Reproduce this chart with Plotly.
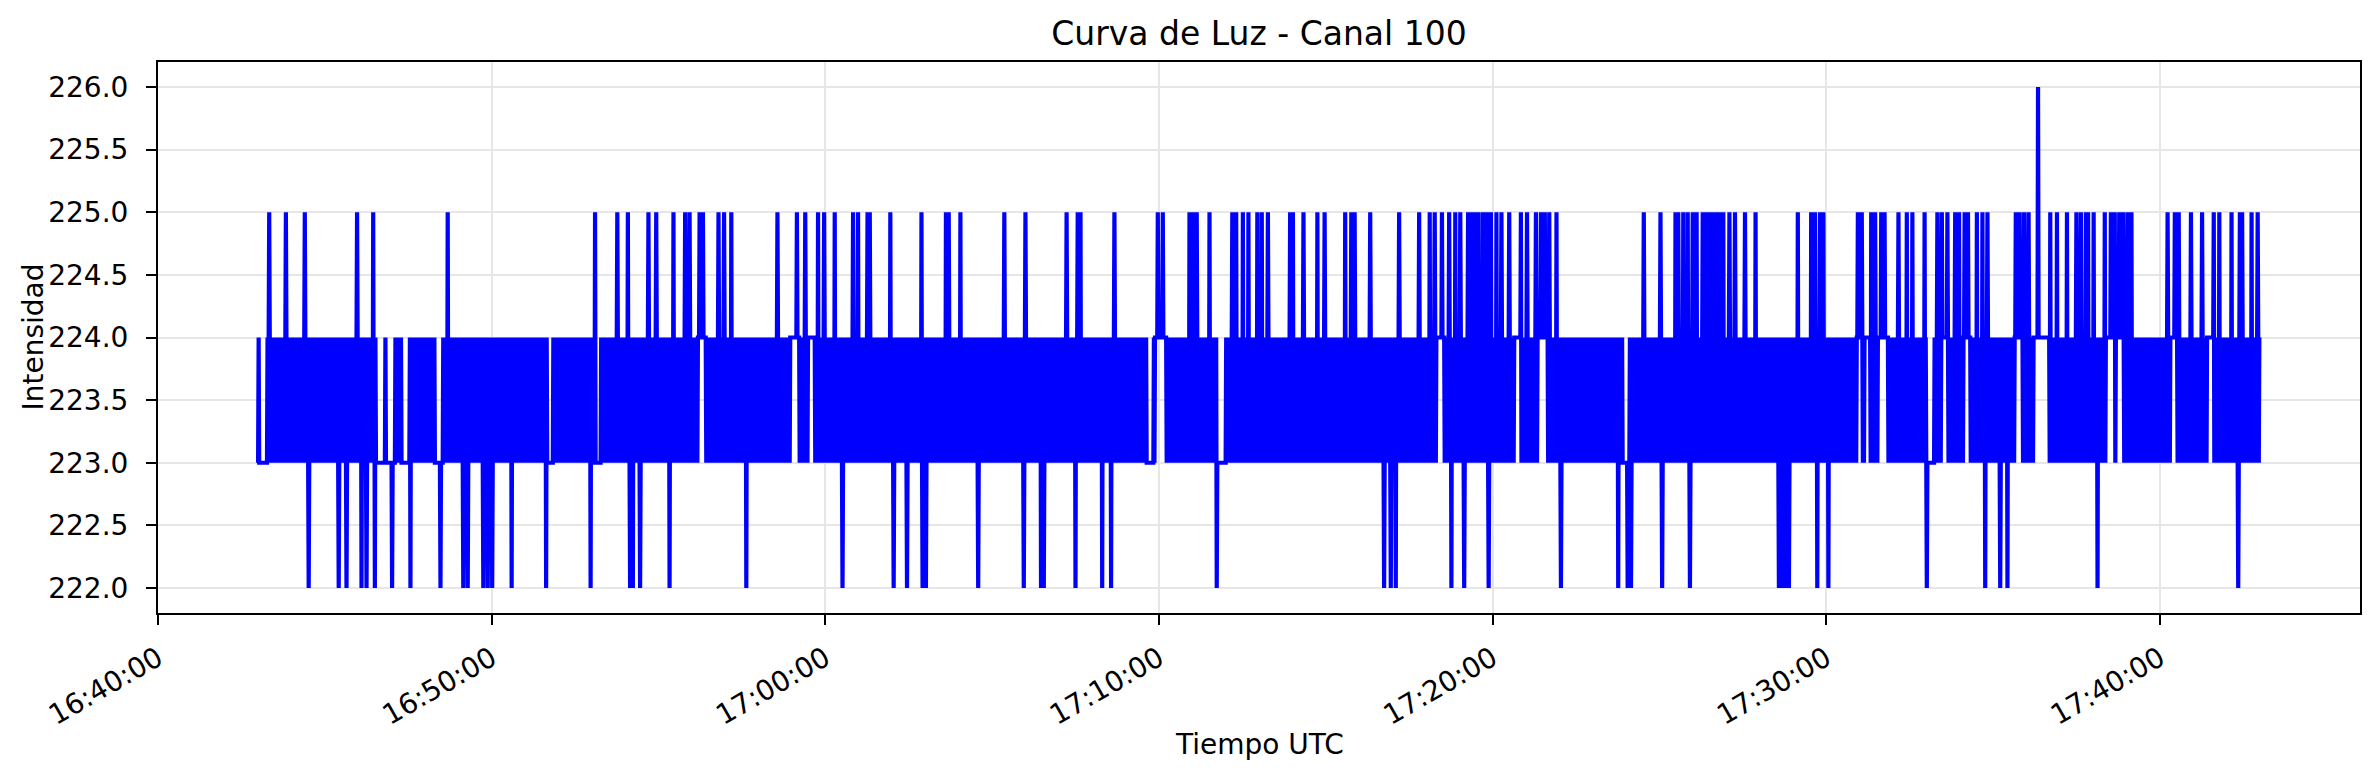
import pandas as pd
import plotly.graph_objects as go

# Light curve, channel 100: one reading per second from 16:43:00 to 17:43:00 UTC.
# The reading flickers between 223 and 224 nearly every second; the lists below
# hold the excursions (seconds after 16:43:00).
start_time = '2024-01-01 16:43:00'
duration_s = 3600
flicker_levels = [223, 224]

spikes_225 = [
    20, 50, 84, 178, 207, 341, 606, 646, 665, 702, 716, 747, 768, 776, 794, 800,
    828, 838, 851, 934, 969, 984, 1007, 1018, 1037, 1070, 1079, 1096, 1100, 1137,
    1193, 1237, 1242, 1263, 1342, 1380, 1454, 1474, 1479, 1540, 1618, 1627, 1675,
    1681, 1688, 1711, 1752, 1759, 1771, 1781, 1797, 1805, 1816, 1856, 1861, 1880,
    1905, 1918, 1955, 1966, 1972, 2000, 2052, 2088, 2107, 2116, 2129, 2142, 2153,
    2162, 2176, 2183, 2190, 2195, 2203, 2210, 2217, 2227, 2236, 2250, 2271, 2282,
    2298, 2307, 2314, 2322, 2335, 2492, 2522, 2549, 2554, 2563, 2571, 2580, 2587,
    2598, 2604, 2610, 2616, 2622, 2628, 2635, 2646, 2656, 2674, 2693, 2769, 2793,
    2800, 2809, 2815, 2877, 2884, 2901, 2908, 2919, 2925, 2950, 2965, 2975, 2997,
    3020, 3028, 3038, 3052, 3059, 3069, 3075, 3091, 3101, 3110, 3161, 3168, 3176,
    3184, 3223, 3235, 3253, 3270, 3278, 3287, 3291, 3301, 3321, 3332, 3339, 3347,
    3354, 3362, 3369, 3434, 3447, 3454, 3476, 3496, 3517, 3527, 3549, 3564, 3568,
    3585, 3596,
]
spikes_222 = [
    91, 145, 159, 186, 195, 210, 241, 274, 328, 369, 377, 405, 413, 421, 456, 518,
    598, 669, 674, 687, 740, 878, 1051, 1143, 1167, 1195, 1201, 1295, 1377, 1408,
    1413, 1470, 1518, 1534, 1724, 2025, 2037, 2046, 2146, 2169, 2213, 2343, 2446,
    2463, 2469, 2525, 2575, 2735, 2741, 2747, 2753, 2804, 2824, 3001, 3106, 3133,
    3146, 3308, 3561,
]
spikes_226 = [3201]

# stretches where the reading stayed on one level (start s, end s, level)
holds = [
    (3, 16, 223), (213, 228, 223), (231, 245, 223), (258, 271, 223), (318, 331, 223),
    (521, 530, 223), (601, 615, 223), (791, 805, 224), (958, 972, 224),
    (989, 1000, 224), (1598, 1609, 223), (1613, 1632, 224), (1725, 1740, 223),
    (2120, 2132, 224), (2259, 2271, 224), (2301, 2318, 224), (2454, 2466, 223),
    (2875, 2885, 224), (2890, 2899, 224), (2913, 2930, 224), (3002, 3013, 223),
    (3027, 3039, 224), (3068, 3078, 224), (3160, 3172, 224), (3193, 3220, 224),
    (3323, 3338, 224), (3342, 3354, 224), (3439, 3450, 224), (3506, 3517, 224),
]

seconds = list(range(duration_s + 1))
values = [flicker_levels[s % 2] for s in seconds]
for a, b, level in holds:
    for s in range(a, b + 1):
        values[s] = level
for s in spikes_225:
    values[s] = 225
for s in spikes_222:
    values[s] = 222
for s in spikes_226:
    values[s] = 226
values[-1] = 224

times = pd.Timestamp(start_time) + pd.to_timedelta(seconds, unit='s')

font = 'DejaVu Sans'

fig = go.Figure(go.Scatter(
    x=times, y=values, mode='lines',
    line=dict(color='#0000ff', width=4.2, simplify=False),
    showlegend=False,
))

axis_style = dict(
    showline=True, linecolor='black', linewidth=2, mirror=True,
    ticks='outside', ticklen=10, tickwidth=2, tickcolor='black',
    showgrid=True, gridcolor='#e6e6e6', gridwidth=2, zeroline=False,
    tickfont=dict(family=font, size=28, color='black'),
)

fig.update_xaxes(
    **axis_style,
    range=['2024-01-01 16:40:00', '2024-01-01 17:46:00'],
    tick0='2024-01-01 16:40:00', dtick=600000, tickformat='%H:%M:%S',
    tickangle=-30, ticklabelstandoff=6,
)
fig.update_yaxes(
    **axis_style,
    range=[221.8, 226.2], tick0=222, dtick=0.5, tickformat='.1f',
    ticklabelstandoff=12,
)

# the page body adds an 8 px offset, so the figure is 8 px smaller on each axis
fig.update_layout(
    width=2372, height=770,
    margin=dict(l=150, r=20, t=54, b=165),
    plot_bgcolor='white', paper_bgcolor='white',
    title=dict(text='Curva de Luz - Canal 100', xref='paper', x=0.5, xanchor='center',
               y=1 - 25 / 770, yanchor='middle', font=dict(family=font, size=33, color='black')),
    annotations=[
        dict(text='Tiempo UTC', xref='paper', yref='paper', x=0.5, y=(605 - 736) / 551,
             xanchor='center', yanchor='middle', showarrow=False,
             font=dict(family=font, size=28, color='black')),
        dict(text='Intensidad', xref='paper', yref='paper', x=(25 - 150) / 2202, y=0.5,
             xanchor='center', yanchor='middle', textangle=-90, showarrow=False,
             font=dict(family=font, size=28, color='black')),
    ],
)

fig.write_html('out.html')
